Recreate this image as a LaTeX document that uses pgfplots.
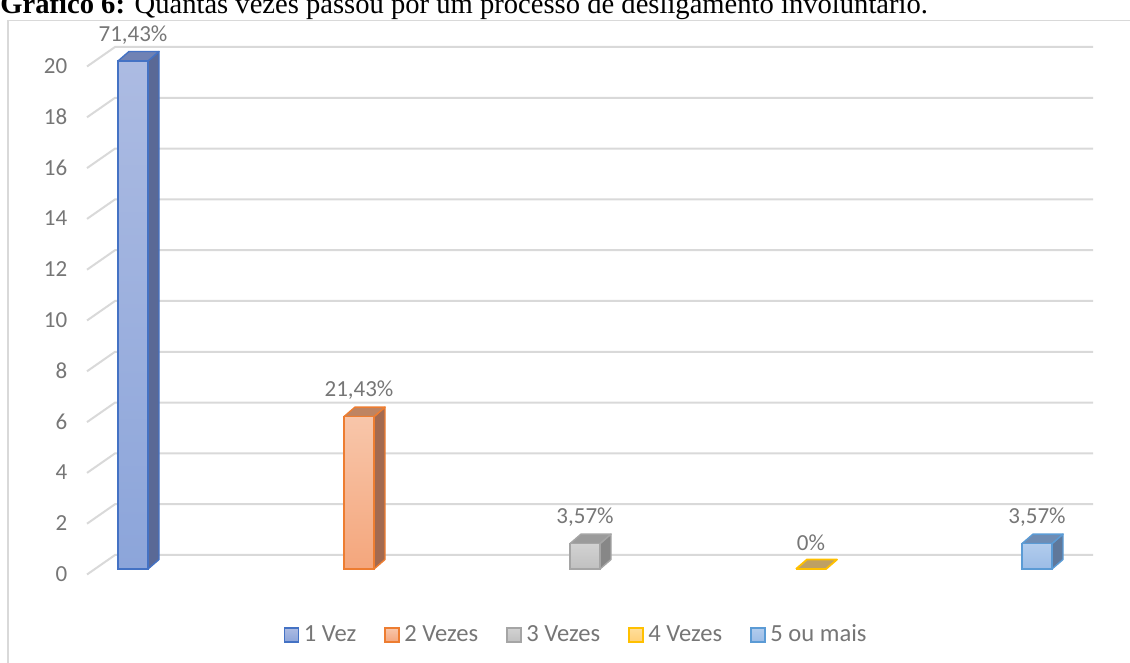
\documentclass[border=0pt]{standalone}
\usepackage{pgfplots}
\pgfplotsset{compat=1.18}
\usepackage{fontspec}
\setmainfont{Carlito}
\newfontfamily\titlefont{Liberation Serif}
\definecolor{txtgray}{RGB}{118,118,118}
\definecolor{gridgray}{RGB}{217,217,217}
\definecolor{b1edge}{RGB}{68,114,196}
\definecolor{b1top}{RGB}{172,187,226}
\definecolor{b1bot}{RGB}{140,165,218}
\definecolor{b1side}{RGB}{90,105,150}
\definecolor{b1lid}{RGB}{112,130,180}
\definecolor{b2edge}{RGB}{237,125,49}
\definecolor{b2top}{RGB}{248,198,170}
\definecolor{b2bot}{RGB}{244,166,124}
\definecolor{b2side}{RGB}{163,106,80}
\definecolor{b2lid}{RGB}{190,132,98}
\definecolor{b3edge}{RGB}{165,165,165}
\definecolor{b3top}{RGB}{210,210,210}
\definecolor{b3bot}{RGB}{192,192,192}
\definecolor{b3side}{RGB}{135,135,135}
\definecolor{b3lid}{RGB}{155,155,155}
\definecolor{b4edge}{RGB}{255,192,0}
\definecolor{b4top}{RGB}{255,222,155}
\definecolor{b4bot}{RGB}{255,208,120}
\definecolor{b4lid}{RGB}{190,160,100}
\definecolor{b5edge}{RGB}{91,155,213}
\definecolor{b5top}{RGB}{178,204,237}
\definecolor{b5bot}{RGB}{155,188,230}
\definecolor{b5side}{RGB}{95,120,155}
\definecolor{b5lid}{RGB}{110,140,180}
\begin{document}
\begin{tikzpicture}
\begin{axis}[
  x=113pt, y=12.7pt,
  xmin=-0.26, xmax=4.4, ymin=-1, ymax=22,
  clip=false, set layers=standard,
  axis line style={draw=none},
  major tick length=0pt,
  xtick=\empty,
  ytick={0,2,...,20},
  /pgf/number format/assume math mode=true,
  yticklabel style={font=\fontsize{11.5}{13}\selectfont, text=txtgray, yshift=-2.5pt},
  every node near coord/.append style={font=\fontsize{11.5}{13}\selectfont, text=txtgray, anchor=center, yshift=13pt},
  legend image code/.code={\draw[#1,line width=0.8pt] (0pt,-3.5pt) rectangle (7pt,3.5pt);},
  legend columns=5,
  legend style={at={(axis cs:1.965,-2.60)}, anchor=center, draw=none, fill=none,
    font=\fontsize{12.3}{14}\selectfont, text=txtgray,
    /tikz/every odd column/.append style={column sep=0.3pt},
    /tikz/every even column/.append style={column sep=12pt}},
]
% back wall grid
\pgfplotsinvokeforeach{0,2,...,20}{
  \draw[on layer=axis background, gridgray, line width=1pt] (axis cs:-0.2035,#1-0.217) -- (axis cs:-0.0796,#1+0.551) -- (axis cs:4.2478,#1+0.551);
}
% frame
\draw[on layer=axis background, gridgray, line width=0.8pt] (axis cs:-0.5531,-4.2) -- (axis cs:-0.5531,21.6) -- (axis cs:4.5,21.6);
% title
\node[anchor=base west, inner sep=0pt, font=\titlefont\fontsize{14.3}{16}\selectfont] at (axis cs:-0.5885,21.85) {\textbf{Gráfico 6:} Quantas vezes passou por um processo de desligamento involuntário.};

% bar 1
\addplot[forget plot, fill=b1side, draw=b1edge, line width=0.7pt, line join=round] coordinates {(0.0664,0) (0.1151,0.374) (0.1151,20.374) (0.0664,20) (0.0664,0)};
\addplot[forget plot, fill=b1lid, draw=b1edge, line width=0.7pt, line join=round] coordinates {(-0.0664,20) (0.0664,20) (0.1151,20.374) (-0.0177,20.374) (-0.0664,20)};
\addplot[ybar, bar width=15pt, bar shift=0pt, top color=b1top, bottom color=b1bot, draw=b1edge, line width=0.9pt,
  nodes near coords={71,43\%}] coordinates {(0,20)};
\addlegendentry{1 Vez}
% bar 2
\addplot[forget plot, fill=b2side, draw=b2edge, line width=0.7pt, line join=round] coordinates {(1.0664,0) (1.1151,0.374) (1.1151,6.374) (1.0664,6) (1.0664,0)};
\addplot[forget plot, fill=b2lid, draw=b2edge, line width=0.7pt, line join=round] coordinates {(0.9336,6) (1.0664,6) (1.1151,6.374) (0.9823,6.374) (0.9336,6)};
\addplot[ybar, bar width=15pt, bar shift=0pt, top color=b2top, bottom color=b2bot, draw=b2edge, line width=0.9pt,
  nodes near coords={21,43\%}] coordinates {(1,6)};
\addlegendentry{2 Vezes}
% bar 3
\addplot[forget plot, fill=b3side, draw=b3edge, line width=0.7pt, line join=round] coordinates {(2.0664,0) (2.1151,0.374) (2.1151,1.374) (2.0664,1) (2.0664,0)};
\addplot[forget plot, fill=b3lid, draw=b3edge, line width=0.7pt, line join=round] coordinates {(1.9336,1) (2.0664,1) (2.1151,1.374) (1.9823,1.374) (1.9336,1)};
\addplot[ybar, bar width=15pt, bar shift=0pt, top color=b3top, bottom color=b3bot, draw=b3edge, line width=0.9pt,
  nodes near coords={3,57\%}] coordinates {(2,1)};
\addlegendentry{3 Vezes}
% bar 4
\addplot[forget plot, fill=b4lid, draw=b4edge, line width=0.9pt, line join=round] coordinates {(2.9336,0) (3.0664,0) (3.1151,0.374) (2.9823,0.374) (2.9336,0)};
\addplot[ybar, bar width=15pt, bar shift=0pt, top color=b4top, bottom color=b4bot, draw=b4edge, line width=0.9pt,
  nodes near coords={0\%}] coordinates {(3,0)};
\addlegendentry{4 Vezes}
% bar 5
\addplot[forget plot, fill=b5side, draw=b5edge, line width=0.7pt, line join=round] coordinates {(4.0664,0) (4.1151,0.374) (4.1151,1.374) (4.0664,1) (4.0664,0)};
\addplot[forget plot, fill=b5lid, draw=b5edge, line width=0.7pt, line join=round] coordinates {(3.9336,1) (4.0664,1) (4.1151,1.374) (3.9823,1.374) (3.9336,1)};
\addplot[ybar, bar width=15pt, bar shift=0pt, top color=b5top, bottom color=b5bot, draw=b5edge, line width=0.9pt,
  nodes near coords={3,57\%}] coordinates {(4,1)};
\addlegendentry{5 ou mais}

\coordinate (BL) at (axis cs:-0.588496,-3.7008);
\coordinate (TR) at (axis cs:4.411504,22.4016);
\end{axis}
\pgfresetboundingbox
\useasboundingbox (BL) rectangle (TR);
\end{tikzpicture}
\end{document}
